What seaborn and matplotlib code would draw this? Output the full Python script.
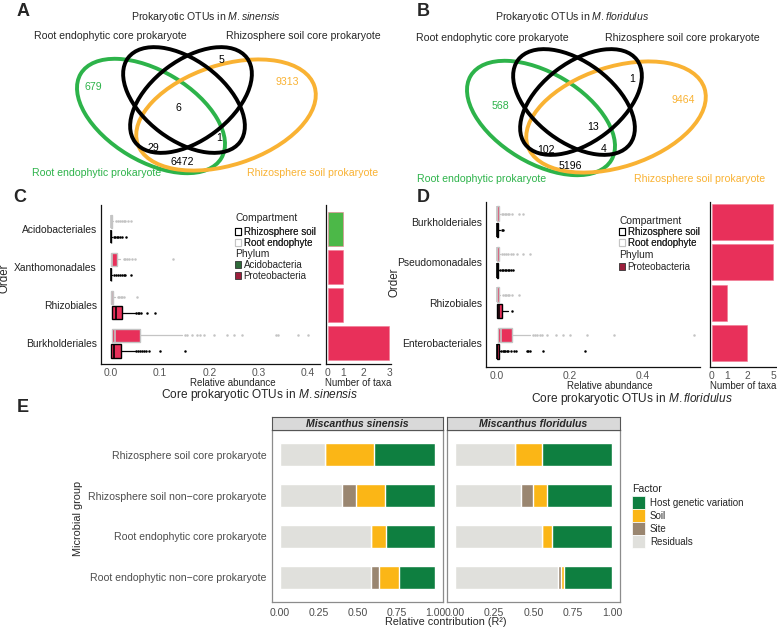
import numpy as np
import pandas as pd
import seaborn as sns
import matplotlib.pyplot as plt
from matplotlib.patches import Ellipse, Patch

sns.set_theme(style='white')
plt.rcParams['font.family'] = ['Liberation Sans', 'DejaVu Sans']
plt.rcParams['mathtext.fontset'] = 'custom'
plt.rcParams['mathtext.rm'] = 'Liberation Sans'
plt.rcParams['mathtext.it'] = 'Liberation Sans:italic'
plt.rcParams['mathtext.bf'] = 'Liberation Sans:bold'

W, H = 777, 630

# ---------------- data ----------------
# venn counts: root only, soil only, then the core regions
venn_sin = [679, 9313, 5, 6, 1, 29, 6472]
venn_flo = [568, 9464, 1, 13, 4, 102, 5196]

# C: core OTUs in M. sinensis (box stats)
c_orders = ['Acidobacteriales', 'Xanthomonadales', 'Rhizobiales', 'Burkholderiales']
c_phylum = ['Acidobacteria', 'Proteobacteria', 'Proteobacteria', 'Proteobacteria']
c_ntaxa = [1, 1, 1, 3]
c_root_q1 = [0.0, 0.0, 0.0, 0.002]
c_root_med = [0.0, 0.002, 0.002, 0.008]
c_root_q3 = [0.003, 0.012, 0.005, 0.059]
c_root_whi = [0.004, 0.018, 0.009, 0.145]
c_root_out = [[0.01, 0.014, 0.018, 0.022, 0.026, 0.03, 0.035, 0.042],
              [0.026, 0.03, 0.034, 0.038, 0.044, 0.05, 0.127],
              [0.014, 0.017, 0.02, 0.023, 0.026, 0.053],
              [0.15, 0.155, 0.165, 0.175, 0.18, 0.19, 0.21, 0.235, 0.25, 0.265,
               0.334, 0.338, 0.38, 0.40]]
c_soil_q1 = [0.0, 0.0, 0.003, 0.0]
c_soil_med = [0.0, 0.0, 0.011, 0.007]
c_soil_q3 = [0.001, 0.001, 0.022, 0.021]
c_soil_whi = [0.003, 0.003, 0.049, 0.049]
c_soil_out = [[0.006, 0.009, 0.012, 0.015, 0.018, 0.022, 0.031],
              [0.006, 0.01, 0.014, 0.018, 0.022, 0.026, 0.03, 0.041],
              [0.052, 0.055, 0.058, 0.062, 0.074, 0.089],
              [0.052, 0.056, 0.06, 0.064, 0.068, 0.072, 0.078, 0.1, 0.15]]

# D: core OTUs in M. floridulus
d_orders = ['Burkholderiales', 'Pseudomonadales', 'Rhizobiales', 'Enterobacteriales']
d_phylum = ['Proteobacteria', 'Proteobacteria', 'Proteobacteria', 'Proteobacteria']
d_ntaxa = [5, 5, 1, 2]
d_root_q1 = [0.0, 0.0, 0.0, 0.004]
d_root_med = [0.001, 0.001, 0.001, 0.012]
d_root_q3 = [0.006, 0.006, 0.006, 0.041]
d_root_whi = [0.01, 0.01, 0.01, 0.092]
d_root_out = [[0.014, 0.018, 0.022, 0.026, 0.03, 0.035, 0.041, 0.06, 0.073],
              [0.014, 0.02, 0.026, 0.032, 0.038, 0.045, 0.055, 0.073, 0.091],
              [0.018, 0.022, 0.026, 0.03, 0.035, 0.041, 0.062],
              [0.1, 0.105, 0.11, 0.118, 0.125, 0.137, 0.163, 0.183, 0.2, 0.247, 0.321, 0.54]]
d_soil_q1 = [0.0, 0.0, 0.001, 0.0]
d_soil_med = [0.0, 0.0, 0.006, 0.002]
d_soil_q3 = [0.004, 0.004, 0.014, 0.006]
d_soil_whi = [0.01, 0.006, 0.03, 0.01]
d_soil_out = [[0.014, 0.018],
              [0.01, 0.014, 0.018, 0.022, 0.026, 0.03, 0.034, 0.038, 0.046],
              [0.041],
              [0.012, 0.016, 0.02, 0.024, 0.028, 0.032, 0.04, 0.047, 0.054,
               0.082, 0.086, 0.09, 0.128, 0.242]]

# E: variance partitioning
groups = ['Rhizosphere soil core prokaryote', 'Rhizosphere soil non\u2212core prokaryote',
          'Root endophytic core prokaryote', 'Root endophytic non\u2212core prokaryote']
sin_resid = [0.293, 0.40, 0.586, 0.586]
sin_site = [0.0, 0.09, 0.0, 0.053]
sin_soil = [0.31, 0.19, 0.10, 0.127]
sin_host = [0.397, 0.32, 0.314, 0.234]
flo_resid = [0.38, 0.418, 0.552, 0.654]
flo_site = [0.0, 0.082, 0.0, 0.023]
flo_soil = [0.176, 0.089, 0.064, 0.019]
flo_host = [0.444, 0.411, 0.384, 0.304]

# ---------------- styles ----------------
GREEN = '#2db34a'
ORANGE = '#f9b233'
PHY_COL = {'Acidobacteria': '#4cb848', 'Proteobacteria': '#e8305a'}
ROOT_EC = '#c4c4c4'
FAC_COL = {'Host genetic variation': '#0e7f40', 'Soil': '#fbb616',
           'Site': '#9a8670', 'Residuals': '#e0e0dc'}
FS_VENN = 7.6
FS_TICK = 7.4
FS_LEG = 7.0


def px_axes(fig, x0, y0, x1, y1):
    return fig.add_axes([x0 / W, 1 - y1 / H, (x1 - x0) / W, (y1 - y0) / H])


def draw_venn(ax, counts, spots, texts, species, dy=0):
    ax.set_xlim(0, 390)
    ax.set_ylim(190, 0)
    ax.axis('off')
    ells = [((151, 116), 164, 90, 31, GREEN), ((226, 115), 186, 100, -18, ORANGE),
            ((184, 100), 140, 80, 37, 'black'), ((191, 100), 140, 80, -37, 'black')]
    for (cx, cy), w, h, ang, col in ells:
        ax.add_patch(Ellipse((cx, cy + dy), w, h, angle=ang, fill=False, ec=col, lw=2.8))
    cols = [GREEN, ORANGE] + ['black'] * 5
    for n, (x, y), c in zip(counts, spots, cols):
        ax.text(x, y, str(n), color=c, fontsize=FS_VENN, ha='center', va='center')
    (tx, ty), (ax1, ay1), (ax2, ay2), (bx1, by1), (bx2, by2) = texts
    ax.text(tx, ty, 'Prokaryotic OTUs in $\\it{' + species + '}$', fontsize=FS_VENN,
            ha='center', va='center')
    ax.text(ax1, ay1, 'Root endophytic core prokaryote', fontsize=FS_VENN, ha='center', va='center')
    ax.text(ax2, ay2, 'Rhizosphere soil core prokaryote', fontsize=FS_VENN, ha='center', va='center')
    ax.text(bx1, by1, 'Root endophytic prokaryote', color=GREEN, fontsize=FS_VENN,
            ha='center', va='center')
    ax.text(bx2, by2, 'Rhizosphere soil prokaryote', color=ORANGE, fontsize=FS_VENN,
            ha='center', va='center')


def box_stats(q1, med, q3, whi, out):
    return [dict(q1=a, med=b, q3=c, whislo=a, whishi=d, fliers=e)
            for a, b, c, d, e in zip(q1, med, q3, whi, out)]


def style_spines(ax):
    sns.despine(ax=ax)
    for s in ['left', 'bottom']:
        ax.spines[s].set_color('#111111')
        ax.spines[s].set_linewidth(0.9)


def draw_boxes(ax, orders, phylum, root, soil, xlim, xticks, ylim):
    pos = np.arange(len(orders))
    for stats, shift, ec in [(root, -0.2, ROOT_EC), (soil, 0.2, 'black')]:
        bp = ax.bxp(stats, positions=pos + shift, widths=0.36, orientation='horizontal',
                    patch_artist=True, showcaps=False,
                    boxprops=dict(edgecolor=ec, linewidth=1.0),
                    whiskerprops=dict(color=ec, linewidth=0.9),
                    medianprops=dict(color=ec, linewidth=1.2),
                    flierprops=dict(marker='o', markersize=1.8, markerfacecolor=ec,
                                    markeredgecolor='none'))
        for b, ph in zip(bp['boxes'], phylum):
            b.set_facecolor(PHY_COL[ph])
    ax.set_xlim(*xlim)
    ax.set_ylim(*ylim)
    ax.set_xticks(xticks)
    ax.set_xticklabels([f'{t:.1f}' for t in xticks])
    ax.set_yticks(pos)
    ax.set_yticklabels(orders)
    ax.tick_params(axis='both', length=2, width=0.6, pad=1, labelsize=FS_TICK)
    ax.tick_params(axis='x', labelcolor='#555555')
    ax.tick_params(axis='y', labelcolor='#222222')
    style_spines(ax)


def warp(ticks, pos):
    ticks = np.asarray(ticks, float)
    pos = np.asarray(pos, float)
    s_lo = (pos[1] - pos[0]) / (ticks[1] - ticks[0])
    s_hi = (pos[-1] - pos[-2]) / (ticks[-1] - ticks[-2])
    t = np.r_[ticks[0] - 100, ticks, ticks[-1] + 100]
    p = np.r_[pos[0] - 100 * s_lo, pos, pos[-1] + 100 * s_hi]
    return (lambda v: np.interp(v, t, p)), (lambda v: np.interp(v, p, t))


def draw_counts(ax, orders, phylum, ntaxa, ticks, xlim, ylim):
    df = pd.DataFrame({'order': orders, 'phylum': phylum, 'n': ntaxa})
    sns.barplot(data=df, x='n', y='order', hue='phylum', palette=PHY_COL, order=orders,
                dodge=False, width=0.9, saturation=1, legend=False, ax=ax,
                edgecolor='#f07a92', linewidth=0.4)
    fwd, inv = warp(ticks, [0, 1, 2.33, 4.07])
    ax.set_xscale('function', functions=(fwd, inv))
    ax.set_xlim(*xlim)
    ax.set_ylim(*ylim)
    ax.set_xticks(ticks)
    ax.set_xticklabels([str(t) for t in ticks])
    ax.set_yticks([])
    ax.set_xlabel('')
    ax.set_ylabel('')
    ax.tick_params(axis='x', length=2, width=0.6, pad=1, labelsize=FS_TICK, labelcolor='#555555')
    style_spines(ax)


def box_legend(fig, x, yt1, yi1, yt2, yi2, phyla):
    kw = dict(loc='upper left', bbox_transform=fig.transFigure, frameon=False, fontsize=FS_LEG,
              handlelength=0.6, handleheight=0.6, handletextpad=0.3,
              labelspacing=0.1, borderpad=0, borderaxespad=0)
    h1 = [Patch(facecolor='white', edgecolor='black', lw=0.8),
          Patch(facecolor='white', edgecolor=ROOT_EC, lw=0.8)]
    fig.text(x / W, 1 - yt1 / H, 'Compartment', ha='left', va='center', fontsize=FS_LEG + 0.4)
    l1 = fig.legend(h1, ['Rhizosphere soil', 'Root endophyte'],
                    bbox_to_anchor=(x / W, 1 - yi1 / H), **kw)
    dark = {'Acidobacteria': '#2f6b3a', 'Proteobacteria': '#9c1f3c'}
    h2 = [Patch(facecolor=dark[p], edgecolor='#333333', lw=0.6) for p in phyla]
    fig.text(x / W, 1 - yt2 / H, 'Phylum', ha='left', va='center', fontsize=FS_LEG + 0.4)
    fig.legend(h2, phyla, bbox_to_anchor=(x / W, 1 - yi2 / H), **kw)
    fig.add_artist(l1)


def draw_factor(ax, resid, site, soil, host, show_y):
    c1 = np.array(resid)
    c2 = c1 + np.array(site)
    c3 = c2 + np.array(soil)
    c4 = c3 + np.array(host)
    for cum, name in [(c4, 'Host genetic variation'), (c3, 'Soil'), (c2, 'Site'), (c1, 'Residuals')]:
        sns.barplot(x=cum, y=groups, order=groups, color=FAC_COL[name], width=0.55,
                    saturation=1, orient='h', ax=ax)
    ax.set_xlim(-0.05, 1.05)
    ax.set_ylim(3.6, -0.6)
    ax.set_xticks([0, 0.25, 0.5, 0.75, 1.0])
    ax.set_xticklabels(['0.00', '0.25', '0.50', '0.75', '1.00'])
    ax.set_xlabel('')
    ax.set_ylabel('')
    if not show_y:
        ax.set_yticks([])
    ax.tick_params(axis='both', length=2.5, width=0.6, pad=1.5, labelsize=7.6,
                   labelcolor='#4d4d4d', color='#4d4d4d')
    for s in ax.spines.values():
        s.set_visible(True)
        s.set_color('#8c8c8c')
        s.set_linewidth(0.9)


def strip(fig, x0, x1, label):
    sa = px_axes(fig, x0, 417, x1, 430)
    sa.set_facecolor('#d9d9d9')
    sa.set_xticks([])
    sa.set_yticks([])
    for s in sa.spines.values():
        s.set_visible(True)
        s.set_color('#555555')
        s.set_linewidth(0.8)
    sa.text(0.5, 0.45, label, transform=sa.transAxes, ha='center', va='center',
            fontsize=7.6, fontweight='bold', fontstyle='italic')


fig = plt.figure(figsize=(W / 100, H / 100), dpi=100)

# A and B
draw_venn(px_axes(fig, 0, 0, 390, 190), venn_sin,
          [(93, 87), (287, 82), (222, 60), (178, 108), (219, 138), (153, 148), (182, 162)],
          [(206, 17), (110, 36), (303, 36), (97, 173), (313, 173)], 'M.sinensis')
draw_venn(px_axes(fig, 390, 0, 780, 190), venn_flo,
          [(110, 106), (293, 100), (242, 79), (203, 127), (214, 149), (156, 150), (180, 166)],
          [(182, 17), (102, 38), (292, 38), (92, 179), (310, 179)], 'M.floridulus', dy=2)

# C
ax_c = px_axes(fig, 101, 205, 320, 364)
draw_boxes(ax_c, c_orders, c_phylum,
           box_stats(c_root_q1, c_root_med, c_root_q3, c_root_whi, c_root_out),
           box_stats(c_soil_q1, c_soil_med, c_soil_q3, c_soil_whi, c_soil_out),
           (-0.0196, 0.424), [0.0, 0.1, 0.2, 0.3, 0.4], (3.55, -0.63))
ax_cb = px_axes(fig, 326, 205, 391, 364)
draw_counts(ax_cb, c_orders, c_phylum, c_ntaxa, [0, 1, 2, 3], (-0.13, 3.075), (3.55, -0.63))
box_legend(fig, 235, 218, 227, 254, 260, ['Acidobacteria', 'Proteobacteria'])

# D
ax_d = px_axes(fig, 486, 202, 700, 367)
draw_boxes(ax_d, d_orders, d_phylum,
           box_stats(d_root_q1, d_root_med, d_root_q3, d_root_whi, d_root_out),
           box_stats(d_soil_q1, d_soil_med, d_soil_q3, d_soil_whi, d_soil_out),
           (-0.0293, 0.557), [0.0, 0.2, 0.4], (3.59, -0.49))
ax_db = px_axes(fig, 710, 202, 777, 367)
draw_counts(ax_db, d_orders, d_phylum, d_ntaxa, [0, 1, 2, 5], (-0.13, 5.45), (3.59, -0.49))
box_legend(fig, 619, 221, 227, 255, 262, ['Proteobacteria'])

for x, y, s in [(233, 383, 'Relative abundance'), (358, 383, 'Number of taxa'),
                (610, 386, 'Relative abundance'), (743, 386, 'Number of taxa')]:
    fig.text(x / W, 1 - y / H, s, ha='center', va='center', fontsize=7.0)
fig.text(260 / W, 1 - 395 / H, 'Core prokaryotic OTUs in $\\it{M.sinensis}$',
         ha='center', va='center', fontsize=8.6)
fig.text(632 / W, 1 - 399 / H, 'Core prokaryotic OTUs in $\\it{M.floridulus}$',
         ha='center', va='center', fontsize=8.6)
fig.text(5 / W, 1 - 278 / H, 'Order', rotation=90, ha='center', va='center', fontsize=8.3)
fig.text(395 / W, 1 - 282 / H, 'Order', rotation=90, ha='center', va='center', fontsize=8.3)

# E
ax_e1 = px_axes(fig, 272, 430, 443, 602)
draw_factor(ax_e1, sin_resid, sin_site, sin_soil, sin_host, True)
ax_e2 = px_axes(fig, 447, 430, 620, 602)
draw_factor(ax_e2, flo_resid, flo_site, flo_soil, flo_host, False)
strip(fig, 272, 443, 'Miscanthus sinensis')
strip(fig, 447, 620, 'Miscanthus floridulus')
fig.text(446 / W, 1 - 622 / H, 'Relative contribution (R\u00b2)', ha='center', va='center',
         fontsize=7.8)
fig.text(78 / W, 1 - 518 / H, 'Microbial group', rotation=90, ha='center', va='center',
         fontsize=7.8)
fac_names = ['Host genetic variation', 'Soil', 'Site', 'Residuals']
fig.text(632 / W, 1 - 489 / H, 'Factor', ha='left', va='center', fontsize=7.6)
fig.legend([Patch(facecolor=FAC_COL[n], edgecolor='white', lw=0.5) for n in fac_names], fac_names,
           loc='upper left', bbox_to_anchor=(632 / W, 1 - 496 / H),
           bbox_transform=fig.transFigure, frameon=False, fontsize=7.0,
           handlelength=1.3, handleheight=1.68, handletextpad=0.55,
           labelspacing=0.0, borderpad=0, borderaxespad=0)

# panel letters
for x, y, s in [(23, 11, 'A'), (423, 11, 'B'), (20, 198, 'C'), (423, 198, 'D'), (23, 407, 'E')]:
    fig.text(x / W, 1 - y / H, s, ha='center', va='center', fontsize=13, fontweight='bold')

fig.savefig('out.png', dpi=100)
